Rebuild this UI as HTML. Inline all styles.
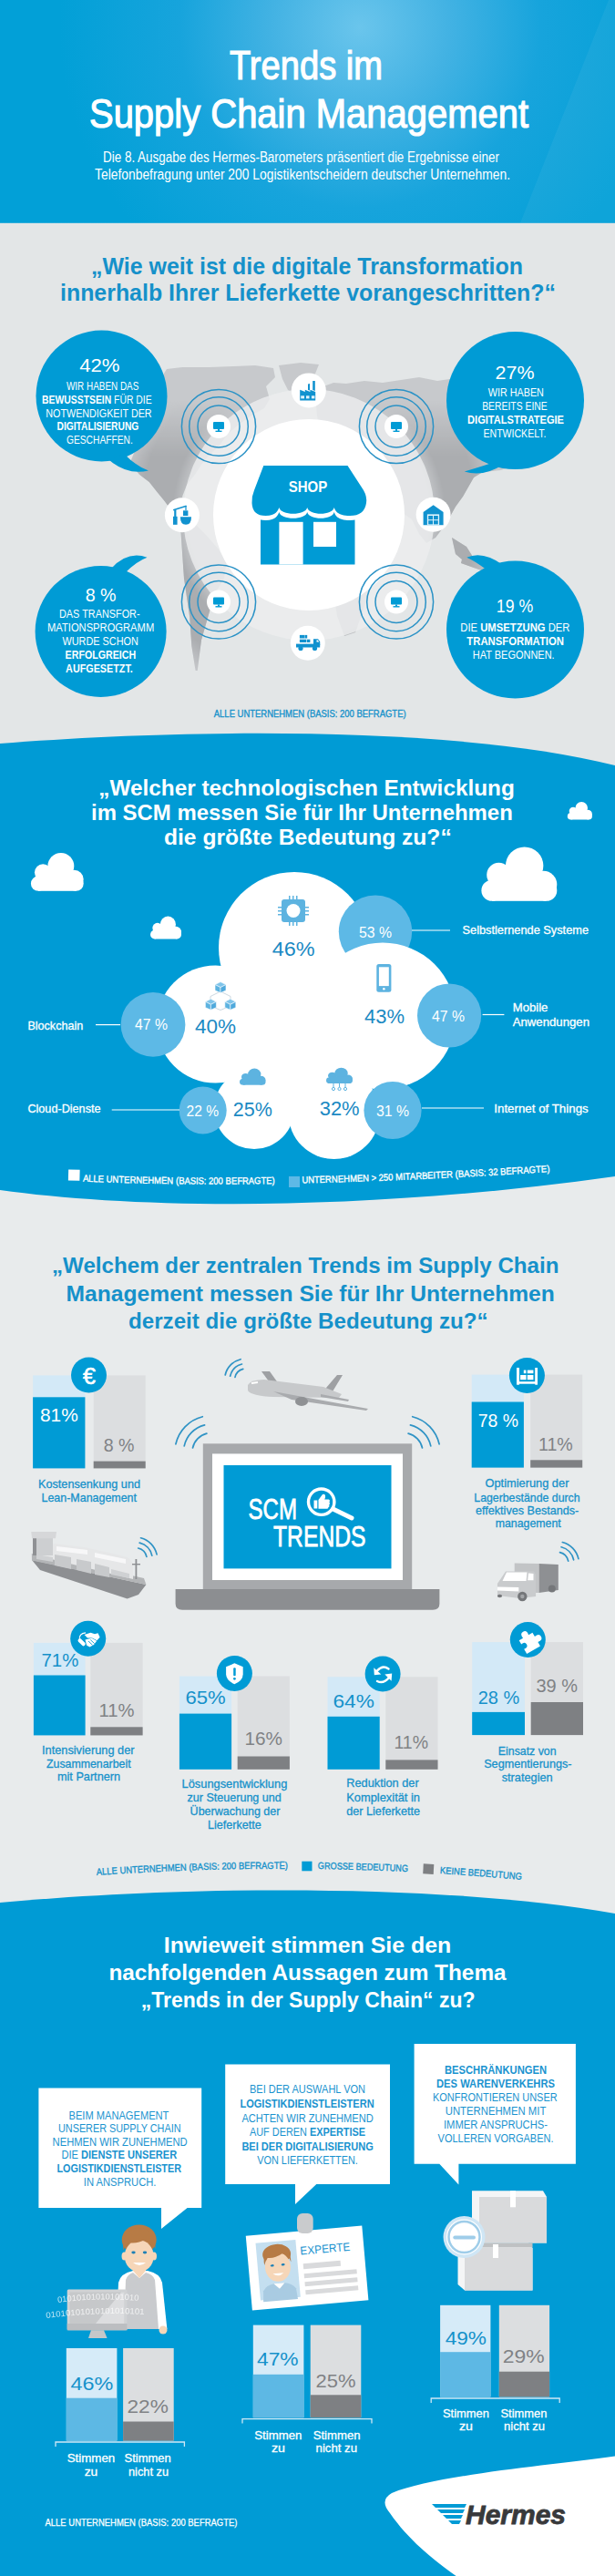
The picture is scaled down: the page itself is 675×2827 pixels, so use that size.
<!DOCTYPE html>
<html><head><meta charset="utf-8"><title>Trends im Supply Chain Management</title>
<style>
html,body{margin:0;padding:0;background:#e8ebec;}
body{width:675px;height:2827px;overflow:hidden;}
svg{display:block;font-family:"Liberation Sans", sans-serif;}
</style></head><body>
<svg width="675" height="2827" viewBox="0 0 675 2827">
<defs>
<radialGradient id="hg" cx="395" cy="30" r="330" gradientUnits="userSpaceOnUse">
<stop offset="0" stop-color="#6ac5ec"/><stop offset="0.3" stop-color="#42b2e3"/><stop offset="0.6" stop-color="#17a4dc"/><stop offset="1" stop-color="#02a0d7"/>
</radialGradient>
</defs>
<rect x="0" y="0" width="675" height="2827" fill="#e8ebec"/>
<rect x="0" y="244" width="675" height="600" fill="#e3e6e7"/>
<rect x="0" y="0" width="675" height="244.8" fill="url(#hg)"/>
<path d="M668,0 L675,0 L675,244.8 L571,244.8 Z" fill="#ffffff" opacity="0.05"/>
<path d="M0,816 C200,800 500,796 675,840 L675,1291 C400,1330 150,1327 0,1306 Z" fill="#009bd5"/>
<path d="M0,2088 C200,2070 480,2066 675,2100 L675,2827 L0,2827 Z" fill="#009bd5"/>
<text x="252.0" y="87.0" font-size="45" fill="#fff" text-anchor="start" textLength="168.0" lengthAdjust="spacingAndGlyphs" stroke="#fff" stroke-width="1.2">Trends im</text>
<text x="98.0" y="140.0" font-size="45" fill="#fff" text-anchor="start" textLength="482.0" lengthAdjust="spacingAndGlyphs" stroke="#fff" stroke-width="1.2">Supply Chain Management</text>
<text x="113.0" y="178.0" font-size="15.8" fill="#fff" text-anchor="start" textLength="435.0" lengthAdjust="spacingAndGlyphs">Die 8. Ausgabe des Hermes-Barometers präsentiert die Ergebnisse einer</text>
<text x="104.0" y="197.0" font-size="15.8" fill="#fff" text-anchor="start" textLength="456.0" lengthAdjust="spacingAndGlyphs">Telefonbefragung unter 200 Logistikentscheidern deutscher Unternehmen.</text>
<text x="100.0" y="300.5" font-size="25" fill="#1591ca" text-anchor="start" font-weight="bold" textLength="474.0" lengthAdjust="spacingAndGlyphs">„Wie weit ist die digitale Transformation</text>
<text x="66.0" y="329.5" font-size="25" fill="#1591ca" text-anchor="start" font-weight="bold" textLength="544.0" lengthAdjust="spacingAndGlyphs">innerhalb Ihrer Lieferkette vorangeschritten?“</text>
<radialGradient id="rgd" cx="339" cy="565" r="220" gradientUnits="userSpaceOnUse">
<stop offset="0.6" stop-color="#000"/><stop offset="0.68" stop-color="#fff"/><stop offset="0.84" stop-color="#fff"/><stop offset="0.96" stop-color="#000"/></radialGradient>
<linearGradient id="lgd" x1="0" y1="440" x2="0" y2="500" gradientUnits="userSpaceOnUse"><stop offset="0" stop-color="#000"/><stop offset="1" stop-color="#fff"/></linearGradient>
<mask id="mR" maskUnits="userSpaceOnUse" x="0" y="300" width="675" height="520"><rect x="0" y="300" width="675" height="520" fill="url(#rgd)"/></mask>
<mask id="mV" maskUnits="userSpaceOnUse" x="0" y="300" width="675" height="520"><rect x="0" y="300" width="675" height="520" fill="url(#lgd)"/></mask>
<g fill="#c7c9cc">
<path d="M165,428 L176,416 L183,405 L200,403 L230,403 L257,402 L280,401 L300,404 L302,414 L292,424 L296,438 L290,448 L276,456 L262,466 L250,476 L240,490 L229,500 L221,510 L214.6,520 L205,532 L200,545 L204,563 L193.4,563 L187,558.7 L180.7,550 L172.3,539.7 L163.8,529 L153,520.7 L142.7,508 L150,490 L158,470 L160,450 Z"/>
<path d="M306,401 L330,398 L350,400 L346,410 L336,424 L326,433 L316,428 L310,416 Z"/>
<path d="M197.7,572 L214.6,575.6 L227,588 L240,603 L248.4,618 L246,635 L235.7,651.7 L229.4,673 L221,702.5 L218.8,719.4 L216.7,736 L214.6,736 L210.3,708.8 L208.2,677 L202,635 L199.8,603 Z"/>
<path d="M350,426 L366,420 L380,421 L400,418 L420,420 L440,417 L460,414 L480,418 L500,415 L530,417 L560,413 L600,412 L625,416 L630,440 L610,480 L580,505 L550,516 L530,518 L520,524 L508,545 L500,556 L490,574 L478,590 L468,596 L460,586 L452,570 L440,562 L425,556 L410,548 L396,544 L382,538 L372,522 L362,500 L352,480 L348,456 L346,434 Z"/>
<path d="M360,572 L392,566 L414,580 L420,600 L412,628 L402,660 L390,694 L378,698 L370,676 L364,640 L356,606 Z"/>
<path d="M496,590 L512,600 L522,616 L514,620 L500,608 Z"/>
<path d="M508,610 L538,622 L534,628 L506,618 Z"/>
<path d="M530,640 L566,636 L596,650 L600,690 L580,712 L548,710 L526,694 L520,664 Z"/>
</g>
<g mask="url(#mV)"><g fill="#abadb0" mask="url(#mR)">
<path d="M165,428 L176,416 L183,405 L200,403 L230,403 L257,402 L280,401 L300,404 L302,414 L292,424 L296,438 L290,448 L276,456 L262,466 L250,476 L240,490 L229,500 L221,510 L214.6,520 L205,532 L200,545 L204,563 L193.4,563 L187,558.7 L180.7,550 L172.3,539.7 L163.8,529 L153,520.7 L142.7,508 L150,490 L158,470 L160,450 Z"/>
<path d="M306,401 L330,398 L350,400 L346,410 L336,424 L326,433 L316,428 L310,416 Z"/>
<path d="M197.7,572 L214.6,575.6 L227,588 L240,603 L248.4,618 L246,635 L235.7,651.7 L229.4,673 L221,702.5 L218.8,719.4 L216.7,736 L214.6,736 L210.3,708.8 L208.2,677 L202,635 L199.8,603 Z"/>
<path d="M350,426 L366,420 L380,421 L400,418 L420,420 L440,417 L460,414 L480,418 L500,415 L530,417 L560,413 L600,412 L625,416 L630,440 L610,480 L580,505 L550,516 L530,518 L520,524 L508,545 L500,556 L490,574 L478,590 L468,596 L460,586 L452,570 L440,562 L425,556 L410,548 L396,544 L382,538 L372,522 L362,500 L352,480 L348,456 L346,434 Z"/>
<path d="M360,572 L392,566 L414,580 L420,600 L412,628 L402,660 L390,694 L378,698 L370,676 L364,640 L356,606 Z"/>
<path d="M496,590 L512,600 L522,616 L514,620 L500,608 Z"/>
<path d="M508,610 L538,622 L534,628 L506,618 Z"/>
<path d="M530,640 L566,636 L596,650 L600,690 L580,712 L548,710 L526,694 L520,664 Z"/>
</g></g>
<circle cx="339" cy="565" r="121" fill="none" stroke="#eceeef" stroke-width="34" opacity="0.8"/>
<circle cx="339" cy="565" r="105" fill="#ffffff"/>
<g fill="none" stroke="#2a92c6" stroke-width="1.5"><circle cx="240" cy="468" r="40.6"/><circle cx="240" cy="468" r="32.3"/><circle cx="240" cy="468" r="23"/></g>
<circle cx="240" cy="468" r="13" fill="#fff"/>
<rect x="234" y="463" width="12" height="8" rx="1" fill="#009bd5"/><rect x="239" y="471" width="2" height="2" fill="#009bd5"/><rect x="236.5" y="472.6" width="7" height="1.4" fill="#009bd5"/>
<g fill="none" stroke="#2a92c6" stroke-width="1.5"><circle cx="435" cy="468" r="40.6"/><circle cx="435" cy="468" r="32.3"/><circle cx="435" cy="468" r="23"/></g>
<circle cx="435" cy="468" r="13" fill="#fff"/>
<rect x="429" y="463" width="12" height="8" rx="1" fill="#009bd5"/><rect x="434" y="471" width="2" height="2" fill="#009bd5"/><rect x="431.5" y="472.6" width="7" height="1.4" fill="#009bd5"/>
<g fill="none" stroke="#2a92c6" stroke-width="1.5"><circle cx="240" cy="660.5" r="40.6"/><circle cx="240" cy="660.5" r="32.3"/><circle cx="240" cy="660.5" r="23"/></g>
<circle cx="240" cy="660.5" r="13" fill="#fff"/>
<rect x="234" y="655.5" width="12" height="8" rx="1" fill="#009bd5"/><rect x="239" y="663.5" width="2" height="2" fill="#009bd5"/><rect x="236.5" y="665.1" width="7" height="1.4" fill="#009bd5"/>
<g fill="none" stroke="#2a92c6" stroke-width="1.5"><circle cx="435" cy="660.5" r="40.6"/><circle cx="435" cy="660.5" r="32.3"/><circle cx="435" cy="660.5" r="23"/></g>
<circle cx="435" cy="660.5" r="13" fill="#fff"/>
<rect x="429" y="655.5" width="12" height="8" rx="1" fill="#009bd5"/><rect x="434" y="663.5" width="2" height="2" fill="#009bd5"/><rect x="431.5" y="665.1" width="7" height="1.4" fill="#009bd5"/>
<circle cx="338.8" cy="428.4" r="19" fill="#fff"/>
<circle cx="199.9" cy="565.2" r="19" fill="#fff"/>
<circle cx="475.6" cy="564.8" r="19" fill="#fff"/>
<circle cx="337.8" cy="705.8" r="19" fill="#fff"/>
<g fill="#1192cf"><path d="M329.2,439.4 L329.2,427.7 L334.8,430 L334.8,427.7 L340.4,430 L340.4,427.7 L346.2,430 L346.2,439.4 Z"/><path d="M338,421.5 L340,421 L340,428.5 L338,428 Z"/><path d="M343.2,418 L345.8,418 L345.8,429 L343.2,428 Z"/></g>
<g fill="#dff3fc"><rect x="330.2" y="434.3" width="3.8" height="3.1"/><rect x="336" y="434.3" width="3.5" height="3.1"/><rect x="341.9" y="434.3" width="3.5" height="3.1"/></g>
<g fill="#1192cf"><rect x="190" y="566.8" width="4.6" height="9"/><rect x="191.2" y="559.5" width="2.2" height="8"/><path d="M190,559 L204.4,554.5 L204.8,556 L190.4,560.6 Z"/><rect x="203.4" y="555" width="1.2" height="5"/><rect x="201" y="560.3" width="5.4" height="5.7"/><path d="M197.9,567.2 L210,567.2 Q210,575.8 204,575.8 Q197.9,575.8 197.9,567.2 Z"/></g>
<path d="M464.6,562 L475.6,554.2 L486.6,562 L486.6,576.2 L464.6,576.2 Z" fill="#1192cf"/><rect x="468.9" y="564.4" width="13.2" height="11.8" fill="#dff3fc"/>
<g fill="#1192cf"><rect x="470.2" y="566" width="4.8" height="4.2"/><rect x="476" y="566" width="4.8" height="4.2"/><rect x="470.2" y="571.2" width="4.8" height="4.2"/><rect x="476" y="571.2" width="4.8" height="4.2"/></g>
<g fill="#1192cf"><rect x="325" y="706.6" width="26.2" height="3.9"/><path d="M344,701.3 L349,701.3 L351.2,704 L351.2,708 L344,708 Z"/><rect x="328.9" y="696.9" width="5.5" height="3.6"/><rect x="334.6" y="696.9" width="2.6" height="3.6"/><rect x="328.9" y="701.7" width="7.5" height="3.3"/><rect x="337" y="701.7" width="3.4" height="3.3"/><circle cx="330" cy="711.5" r="2.6"/><circle cx="345.5" cy="711.5" r="2.6"/></g>
<path d="M347.5,702.5 L349,702.5 L350.2,704.6 L347.5,704.6 Z" fill="#fff"/>
<rect x="286" y="560" width="103.5" height="59.5" fill="#009bd5"/>
<path d="M289.3,510.9 L381.5,510.9 L399,538 Q403,545 402,552 Q400,566 384,566 C370,566 368,560 366.7,557 C365,566 339,566 337.2,557 C335.5,566 308,566 306.4,557 C305,560 303,566 291.6,566 Q277,566 276.5,552 Q276,545 279,538 Z" fill="#fff" transform="translate(0,5)"/>
<path d="M289.3,510.9 L381.5,510.9 L399,538 Q403,545 402,552 Q400,566 384,566 C370,566 368,560 366.7,557 C365,566 339,566 337.2,557 C335.5,566 308,566 306.4,557 C305,560 303,566 291.6,566 Q277,566 276.5,552 Q276,545 279,538 Z" fill="#009bd5"/>
<rect x="306.4" y="572.8" width="26.2" height="46.7" fill="#fff"/><rect x="344" y="572.8" width="25" height="27.2" fill="#fff"/>
<text x="316.7" y="539.8" font-size="16.5" fill="#fff" text-anchor="start" font-weight="bold" textLength="42.5" lengthAdjust="spacingAndGlyphs">SHOP</text>
<circle cx="111.5" cy="434.5" r="72" fill="#009bd5"/>
<path d="M136,498 Q150,512 163,516.5 Q140,522 120,505 Z" fill="#009bd5"/>
<circle cx="565.5" cy="439.6" r="75.5" fill="#009bd5"/>
<path d="M540,508 Q522,514 509.7,517.4 Q530,524 552,510 Z" fill="#009bd5"/>
<circle cx="110.6" cy="693" r="72" fill="#009bd5"/>
<path d="M138,628 Q150,616 161.5,611.7 Q140,604 122,624 Z" fill="#009bd5"/>
<circle cx="565.5" cy="691" r="75.5" fill="#009bd5"/>
<path d="M535,626 Q522,616 512.3,611.7 Q530,604 552,620 Z" fill="#009bd5"/>
<text x="87.2" y="408.1" font-size="20.5" fill="#fff" text-anchor="start" textLength="44.3" lengthAdjust="spacingAndGlyphs">42%</text>
<text x="73.0" y="428.2" font-size="12.3" fill="#fff" text-anchor="start" textLength="79.3" lengthAdjust="spacingAndGlyphs">WIR HABEN DAS</text>
<text x="46.1" y="442.8" font-size="12.3" fill="#fff" text-anchor="start" textLength="120.5" lengthAdjust="spacingAndGlyphs"><tspan font-weight="bold">BEWUSSTSEIN</tspan> FÜR DIE</text>
<text x="50.3" y="457.5" font-size="12.3" fill="#fff" text-anchor="start" textLength="116.3" lengthAdjust="spacingAndGlyphs">NOTWENDIGKEIT DER</text>
<text x="62.5" y="472.1" font-size="12.3" fill="#fff" text-anchor="start" textLength="89.8" lengthAdjust="spacingAndGlyphs"><tspan font-weight="bold">DIGITALISIERUNG</tspan></text>
<text x="73.0" y="486.7" font-size="12.3" fill="#fff" text-anchor="start" textLength="72.8" lengthAdjust="spacingAndGlyphs">GESCHAFFEN.</text>
<text x="543.5" y="416.0" font-size="20.5" fill="#fff" text-anchor="start" textLength="43.0" lengthAdjust="spacingAndGlyphs">27%</text>
<text x="535.7" y="435.4" font-size="12.3" fill="#fff" text-anchor="start" textLength="61.2" lengthAdjust="spacingAndGlyphs">WIR HABEN</text>
<text x="529.2" y="450.3" font-size="12.3" fill="#fff" text-anchor="start" textLength="71.6" lengthAdjust="spacingAndGlyphs">BEREITS EINE</text>
<text x="513.1" y="465.3" font-size="12.3" fill="#fff" text-anchor="start" textLength="105.9" lengthAdjust="spacingAndGlyphs"><tspan font-weight="bold">DIGITALSTRATEGIE</tspan></text>
<text x="530.5" y="480.2" font-size="12.3" fill="#fff" text-anchor="start" textLength="69.0" lengthAdjust="spacingAndGlyphs">ENTWICKELT.</text>
<text x="93.7" y="660.4" font-size="20.5" fill="#fff" text-anchor="start" textLength="33.9" lengthAdjust="spacingAndGlyphs">8 %</text>
<text x="65.0" y="678.0" font-size="12.3" fill="#fff" text-anchor="start" textLength="88.6" lengthAdjust="spacingAndGlyphs">DAS TRANSFOR-</text>
<text x="52.0" y="693.0" font-size="12.3" fill="#fff" text-anchor="start" textLength="117.2" lengthAdjust="spacingAndGlyphs">MATIONSPROGRAMM</text>
<text x="68.5" y="707.9" font-size="12.3" fill="#fff" text-anchor="start" textLength="83.3" lengthAdjust="spacingAndGlyphs">WURDE SCHON</text>
<text x="71.6" y="722.9" font-size="12.3" fill="#fff" text-anchor="start" textLength="77.6" lengthAdjust="spacingAndGlyphs"><tspan font-weight="bold">ERFOLGREICH</tspan></text>
<text x="72.1" y="737.9" font-size="12.3" fill="#fff" text-anchor="start" textLength="73.7" lengthAdjust="spacingAndGlyphs"><tspan font-weight="bold">AUFGESETZT.</tspan></text>
<text x="544.8" y="671.5" font-size="20.5" fill="#fff" text-anchor="start" textLength="40.4" lengthAdjust="spacingAndGlyphs">19 %</text>
<text x="505.3" y="693.1" font-size="12.3" fill="#fff" text-anchor="start" textLength="120.2" lengthAdjust="spacingAndGlyphs">DIE <tspan font-weight="bold">UMSETZUNG</tspan> DER</text>
<text x="512.3" y="708.0" font-size="12.3" fill="#fff" text-anchor="start" textLength="106.7" lengthAdjust="spacingAndGlyphs"><tspan font-weight="bold">TRANSFORMATION</tspan></text>
<text x="518.8" y="722.8" font-size="12.3" fill="#fff" text-anchor="start" textLength="89.8" lengthAdjust="spacingAndGlyphs">HAT BEGONNEN.</text>
<text x="234.8" y="786.5" font-size="11" fill="#1591ca" text-anchor="start" textLength="210.8" lengthAdjust="spacingAndGlyphs" stroke="#1591ca" stroke-width="0.35">ALLE UNTERNEHMEN (BASIS: 200 BEFRAGTE)</text>
<text x="108.3" y="872.5" font-size="24" fill="#fff" text-anchor="start" font-weight="bold" textLength="456.5" lengthAdjust="spacingAndGlyphs">„Welcher technologischen Entwicklung</text>
<text x="100.0" y="900.0" font-size="24" fill="#fff" text-anchor="start" font-weight="bold" textLength="462.8" lengthAdjust="spacingAndGlyphs">im SCM messen Sie für Ihr Unternehmen</text>
<text x="180.0" y="927.4" font-size="24" fill="#fff" text-anchor="start" font-weight="bold" textLength="315.7" lengthAdjust="spacingAndGlyphs">die größte Bedeutung zu?“</text>
<g transform="translate(33.90,936.10) scale(0.5780,0.5792)" fill="#fff"><circle cx="14" cy="58" r="14"/><circle cx="86" cy="58" r="14"/><circle cx="23" cy="37" r="16"/><circle cx="57" cy="25" r="25"/><circle cx="82" cy="50" r="18"/><rect x="14" y="40" width="72" height="32"/></g>
<g transform="translate(165.00,1005.60) scale(0.3400,0.3458)" fill="#fff"><circle cx="14" cy="58" r="14"/><circle cx="86" cy="58" r="14"/><circle cx="23" cy="37" r="16"/><circle cx="57" cy="25" r="25"/><circle cx="82" cy="50" r="18"/><rect x="14" y="40" width="72" height="32"/></g>
<g transform="translate(622.80,880.00) scale(0.2710,0.2708)" fill="#fff"><circle cx="14" cy="58" r="14"/><circle cx="86" cy="58" r="14"/><circle cx="23" cy="37" r="16"/><circle cx="57" cy="25" r="25"/><circle cx="82" cy="50" r="18"/><rect x="14" y="40" width="72" height="32"/></g>
<g transform="translate(528.40,929.50) scale(0.8290,0.8236)" fill="#fff"><circle cx="14" cy="58" r="14"/><circle cx="86" cy="58" r="14"/><circle cx="23" cy="37" r="16"/><circle cx="57" cy="25" r="25"/><circle cx="82" cy="50" r="18"/><rect x="14" y="40" width="72" height="32"/></g>
<circle cx="323" cy="1040" r="83" fill="#fff"/>
<circle cx="412" cy="1022.6" r="40.2" fill="#5db9e6"/>
<g fill="#fff"><circle cx="236.6" cy="1124" r="64.6"/><circle cx="420" cy="1115" r="80.5"/><circle cx="279" cy="1217" r="44"/><circle cx="366.6" cy="1222" r="50"/><path d="M245,1060 L420,1060 L425,1180 L380,1200 L320,1225 L260,1205 Z"/></g>
<circle cx="168" cy="1124.4" r="35.4" fill="#5db9e6"/>
<circle cx="493.1" cy="1114.5" r="35.1" fill="#5db9e6"/>
<circle cx="222.7" cy="1218.5" r="26" fill="#5db9e6"/>
<circle cx="431" cy="1218.5" r="31.6" fill="#5db9e6"/>
<g stroke="#fff" stroke-width="1.2"><line x1="452" y1="1021" x2="494" y2="1021"/><line x1="105" y1="1124.6" x2="132" y2="1124.6"/><line x1="122.7" y1="1218" x2="197" y2="1218"/><line x1="529.6" y1="1113.5" x2="553.4" y2="1113.5"/><line x1="463" y1="1216" x2="531" y2="1216"/></g>
<text x="507.5" y="1025.0" font-size="13" fill="#fff" text-anchor="start" textLength="138.5" lengthAdjust="spacingAndGlyphs" stroke="#fff" stroke-width="0.3">Selbstlernende Systeme</text>
<text x="30.4" y="1129.5" font-size="13" fill="#fff" text-anchor="start" textLength="60.8" lengthAdjust="spacingAndGlyphs" stroke="#fff" stroke-width="0.3">Blockchain</text>
<text x="30.4" y="1221.0" font-size="13" fill="#fff" text-anchor="start" textLength="80.1" lengthAdjust="spacingAndGlyphs" stroke="#fff" stroke-width="0.3">Cloud-Dienste</text>
<text x="562.7" y="1110.0" font-size="13" fill="#fff" text-anchor="start" textLength="38.7" lengthAdjust="spacingAndGlyphs" stroke="#fff" stroke-width="0.3">Mobile</text>
<text x="562.7" y="1125.7" font-size="13" fill="#fff" text-anchor="start" textLength="84.3" lengthAdjust="spacingAndGlyphs" stroke="#fff" stroke-width="0.3">Anwendungen</text>
<text x="542.3" y="1221.0" font-size="13" fill="#fff" text-anchor="start" textLength="103.4" lengthAdjust="spacingAndGlyphs" stroke="#fff" stroke-width="0.3">Internet of Things</text>
<text x="394.0" y="1029.0" font-size="17" fill="#fff" text-anchor="start" textLength="36.0" lengthAdjust="spacingAndGlyphs">53 %</text>
<text x="148.0" y="1130.0" font-size="17" fill="#fff" text-anchor="start" textLength="36.0" lengthAdjust="spacingAndGlyphs">47 %</text>
<text x="474.0" y="1121.0" font-size="17" fill="#fff" text-anchor="start" textLength="36.0" lengthAdjust="spacingAndGlyphs">47 %</text>
<text x="204.5" y="1224.5" font-size="17" fill="#fff" text-anchor="start" textLength="35.5" lengthAdjust="spacingAndGlyphs">22 %</text>
<text x="413.0" y="1224.5" font-size="17" fill="#fff" text-anchor="start" textLength="36.0" lengthAdjust="spacingAndGlyphs">31 %</text>
<text x="298.8" y="1049.0" font-size="22" fill="#1a89c3" text-anchor="start" textLength="46.8" lengthAdjust="spacingAndGlyphs">46%</text>
<text x="214.0" y="1133.7" font-size="22" fill="#1a89c3" text-anchor="start" textLength="45.0" lengthAdjust="spacingAndGlyphs">40%</text>
<text x="400.0" y="1123.0" font-size="22" fill="#1a89c3" text-anchor="start" textLength="44.0" lengthAdjust="spacingAndGlyphs">43%</text>
<text x="255.8" y="1225.3" font-size="22" fill="#1a89c3" text-anchor="start" textLength="43.0" lengthAdjust="spacingAndGlyphs">25%</text>
<text x="350.7" y="1224.4" font-size="22" fill="#1a89c3" text-anchor="start" textLength="43.9" lengthAdjust="spacingAndGlyphs">32%</text>
<g fill="#5db3e0"><rect x="309" y="987" width="26" height="25" rx="3"/><rect x="317" y="983" width="1.5" height="4"/><rect x="317" y="1012" width="1.5" height="4"/><rect x="321" y="983" width="1.5" height="4"/><rect x="321" y="1012" width="1.5" height="4"/><rect x="325" y="983" width="1.5" height="4"/><rect x="325" y="1012" width="1.5" height="4"/><rect x="305" y="995" width="4" height="1.5"/><rect x="335" y="995" width="4" height="1.5"/><rect x="305" y="999" width="4" height="1.5"/><rect x="335" y="999" width="4" height="1.5"/><rect x="305" y="1003" width="4" height="1.5"/><rect x="335" y="1003" width="4" height="1.5"/></g><circle cx="322" cy="999.5" r="7.5" fill="#fff"/>
<path d="M231,1093.5 L242,1088 L253,1093.5 L253,1104 L242,1108.5 L231,1104 Z" fill="none" stroke="#c5d3dc" stroke-width="0.9"/>
<g fill="#5db3e0" stroke="#fff" stroke-width="0.6" stroke-linejoin="round"><path d="M236,1080.6 L242.0,1077.6 L248,1080.6 L242.0,1083.6 Z" fill="#7fc4ea"/><path d="M236,1080.6 L242.0,1083.6 L242.0,1089.6 L236,1086.9599999999998 Z"/><path d="M242.0,1083.6 L248,1080.6 L248,1086.9599999999998 L242.0,1089.6 Z" fill="#4fa9dc"/></g>
<g fill="#5db3e0" stroke="#fff" stroke-width="0.6" stroke-linejoin="round"><path d="M225.4,1099.3 L231.4,1096.3 L237.4,1099.3 L231.4,1102.3 Z" fill="#7fc4ea"/><path d="M225.4,1099.3 L231.4,1102.3 L231.4,1108.3 L225.4,1105.6599999999999 Z"/><path d="M231.4,1102.3 L237.4,1099.3 L237.4,1105.6599999999999 L231.4,1108.3 Z" fill="#4fa9dc"/></g>
<g fill="#5db3e0" stroke="#fff" stroke-width="0.6" stroke-linejoin="round"><path d="M246.8,1099.3 L252.8,1096.3 L258.8,1099.3 L252.8,1102.3 Z" fill="#7fc4ea"/><path d="M246.8,1099.3 L252.8,1102.3 L252.8,1108.3 L246.8,1105.6599999999999 Z"/><path d="M252.8,1102.3 L258.8,1099.3 L258.8,1105.6599999999999 L252.8,1108.3 Z" fill="#4fa9dc"/></g>
<g transform="translate(263.00,1172.60) scale(0.2850,0.2514)" fill="#5db3e0"><circle cx="14" cy="58" r="14"/><circle cx="86" cy="58" r="14"/><circle cx="23" cy="37" r="16"/><circle cx="57" cy="25" r="25"/><circle cx="82" cy="50" r="18"/><rect x="14" y="40" width="72" height="32"/></g>
<rect x="413.3" y="1058" width="16.1" height="30.7" rx="2.5" fill="#5db3e0"/><rect x="415.9" y="1061.3" width="10.9" height="20.8" fill="#fff"/><circle cx="421.35" cy="1085.2" r="1.3" fill="#fff"/>
<g transform="translate(358.00,1171.70) scale(0.2900,0.2403)" fill="#5db3e0"><circle cx="14" cy="58" r="14"/><circle cx="86" cy="58" r="14"/><circle cx="23" cy="37" r="16"/><circle cx="57" cy="25" r="25"/><circle cx="82" cy="50" r="18"/><rect x="14" y="40" width="72" height="32"/></g>
<g stroke="#5db3e0" stroke-width="1" fill="none"><line x1="366" y1="1189" x2="366" y2="1193"/><line x1="372.5" y1="1189" x2="372.5" y2="1193"/><line x1="379" y1="1189" x2="379" y2="1193"/><circle cx="366" cy="1195" r="1.6"/><circle cx="372.5" cy="1195" r="1.6"/><circle cx="379" cy="1195" r="1.6"/></g>
<rect x="75" y="1283.7" width="12.5" height="12" fill="#fff" transform="rotate(1.5 81 1290)"/>
<text font-size="10.5" fill="#fff" stroke="#fff" stroke-width="0.35"><textPath href="#lgpath" textLength="513" lengthAdjust="spacingAndGlyphs">ALLE UNTERNEHMEN (BASIS: 200 BEFRAGTE) <tspan dx="30">UNTERNEHMEN &gt; 250 MITARBEITER (BASIS: 32 BEFRAGTE)</tspan></textPath></text>
<path id="lgpath" d="M91,1296.5 Q300,1306 604,1286" fill="none"/>
<rect x="317" y="1291" width="12" height="12" fill="#5db9e6"/>
<text x="57.0" y="1397.3" font-size="24" fill="#1591ca" text-anchor="start" font-weight="bold" textLength="556.5" lengthAdjust="spacingAndGlyphs">„Welchem der zentralen Trends im Supply Chain</text>
<text x="72.6" y="1427.5" font-size="24" fill="#1591ca" text-anchor="start" font-weight="bold" textLength="536.2" lengthAdjust="spacingAndGlyphs">Management messen Sie für Ihr Unternehmen</text>
<text x="141.0" y="1458.0" font-size="24" fill="#1591ca" text-anchor="start" font-weight="bold" textLength="394.7" lengthAdjust="spacingAndGlyphs">derzeit die größte Bedeutung zu?“</text>
<rect x="36.1" y="1509.4" width="57.300000000000004" height="102.0" fill="#d3e9f7"/>
<rect x="36.1" y="1533.3" width="57.300000000000004" height="78.10000000000014" fill="#009bd5"/>
<rect x="102.7" y="1509.4" width="56.999999999999986" height="102.0" fill="#dcdee0"/>
<rect x="102.7" y="1603.6" width="56.999999999999986" height="7.800000000000182" fill="#7e8083"/>
<circle cx="97.5" cy="1509.1" r="19.5" fill="#009bd5"/>
<text x="44.0" y="1560.0" font-size="21" fill="#fff" text-anchor="start" textLength="41.8" lengthAdjust="spacingAndGlyphs">81%</text>
<text x="113.7" y="1593.2" font-size="21" fill="#808285" text-anchor="start" textLength="33.8" lengthAdjust="spacingAndGlyphs">8 %</text>
<text x="42.0" y="1633.2" font-size="13.5" fill="#1591ca" text-anchor="start" textLength="112.0" lengthAdjust="spacingAndGlyphs" stroke="#1591ca" stroke-width="0.3">Kostensenkung und</text>
<text x="45.5" y="1647.5" font-size="13.5" fill="#1591ca" text-anchor="start" textLength="104.5" lengthAdjust="spacingAndGlyphs" stroke="#1591ca" stroke-width="0.3">Lean-Management</text>
<rect x="517.7" y="1508.6" width="57.19999999999993" height="102.0" fill="#d3e9f7"/>
<rect x="517.7" y="1538.5" width="57.19999999999993" height="72.09999999999991" fill="#009bd5"/>
<rect x="582.2" y="1508.6" width="57.0" height="102.0" fill="#dcdee0"/>
<rect x="582.2" y="1602.3" width="57.0" height="8.299999999999955" fill="#7e8083"/>
<circle cx="578.4" cy="1509.4" r="19.5" fill="#009bd5"/>
<text x="524.7" y="1565.9" font-size="21" fill="#fff" text-anchor="start" textLength="44.3" lengthAdjust="spacingAndGlyphs">78 %</text>
<text x="591.0" y="1592.4" font-size="21" fill="#808285" text-anchor="start" textLength="37.8" lengthAdjust="spacingAndGlyphs">11%</text>
<text x="532.5" y="1632.4" font-size="13.5" fill="#1591ca" text-anchor="start" textLength="91.9" lengthAdjust="spacingAndGlyphs" stroke="#1591ca" stroke-width="0.3">Optimierung der</text>
<text x="520.3" y="1647.5" font-size="13.5" fill="#1591ca" text-anchor="start" textLength="116.3" lengthAdjust="spacingAndGlyphs" stroke="#1591ca" stroke-width="0.3">Lagerbestände durch</text>
<text x="522.0" y="1661.8" font-size="13.5" fill="#1591ca" text-anchor="start" textLength="113.3" lengthAdjust="spacingAndGlyphs" stroke="#1591ca" stroke-width="0.3">effektives Bestands-</text>
<text x="543.7" y="1676.0" font-size="13.5" fill="#1591ca" text-anchor="start" textLength="72.1" lengthAdjust="spacingAndGlyphs" stroke="#1591ca" stroke-width="0.3">management</text>
<rect x="36.9" y="1802.9" width="56.699999999999996" height="101.5" fill="#d3e9f7"/>
<rect x="36.9" y="1838.5" width="56.699999999999996" height="65.90000000000009" fill="#009bd5"/>
<rect x="99.3" y="1802.9" width="57.3" height="101.5" fill="#dcdee0"/>
<rect x="99.3" y="1895.3" width="57.3" height="9.100000000000136" fill="#7e8083"/>
<circle cx="96.7" cy="1798.2" r="19.5" fill="#009bd5"/>
<text x="45.5" y="1829.0" font-size="21" fill="#1591ca" text-anchor="start" textLength="40.8" lengthAdjust="spacingAndGlyphs">71%</text>
<text x="108.5" y="1884.0" font-size="21" fill="#808285" text-anchor="start" textLength="39.0" lengthAdjust="spacingAndGlyphs">11%</text>
<text x="46.0" y="1925.4" font-size="13.5" fill="#1591ca" text-anchor="start" textLength="101.5" lengthAdjust="spacingAndGlyphs" stroke="#1591ca" stroke-width="0.3">Intensivierung der</text>
<text x="51.0" y="1939.7" font-size="13.5" fill="#1591ca" text-anchor="start" textLength="92.6" lengthAdjust="spacingAndGlyphs" stroke="#1591ca" stroke-width="0.3">Zusammenarbeit</text>
<text x="63.0" y="1954.0" font-size="13.5" fill="#1591ca" text-anchor="start" textLength="69.0" lengthAdjust="spacingAndGlyphs" stroke="#1591ca" stroke-width="0.3">mit Partnern</text>
<rect x="196.9" y="1839.5" width="57.19999999999999" height="102.29999999999995" fill="#d3e9f7"/>
<rect x="196.9" y="1880.6" width="57.19999999999999" height="61.200000000000045" fill="#009bd5"/>
<rect x="260.7" y="1839.5" width="57.19999999999999" height="102.29999999999995" fill="#dcdee0"/>
<rect x="260.7" y="1927.5" width="57.19999999999999" height="14.299999999999955" fill="#7e8083"/>
<circle cx="257.4" cy="1836.4" r="19.5" fill="#009bd5"/>
<text x="203.4" y="1870.2" font-size="21" fill="#1591ca" text-anchor="start" textLength="44.2" lengthAdjust="spacingAndGlyphs">65%</text>
<text x="268.5" y="1915.0" font-size="21" fill="#808285" text-anchor="start" textLength="41.5" lengthAdjust="spacingAndGlyphs">16%</text>
<text x="199.5" y="1962.3" font-size="13.5" fill="#1591ca" text-anchor="start" textLength="115.8" lengthAdjust="spacingAndGlyphs" stroke="#1591ca" stroke-width="0.3">Lösungsentwicklung</text>
<text x="205.5" y="1977.4" font-size="13.5" fill="#1591ca" text-anchor="start" textLength="103.3" lengthAdjust="spacingAndGlyphs" stroke="#1591ca" stroke-width="0.3">zur Steuerung und</text>
<text x="208.6" y="1992.2" font-size="13.5" fill="#1591ca" text-anchor="start" textLength="98.9" lengthAdjust="spacingAndGlyphs" stroke="#1591ca" stroke-width="0.3">Überwachung der</text>
<text x="228.0" y="2006.5" font-size="13.5" fill="#1591ca" text-anchor="start" textLength="58.7" lengthAdjust="spacingAndGlyphs" stroke="#1591ca" stroke-width="0.3">Lieferkette</text>
<rect x="359.5" y="1840.3" width="57.19999999999999" height="101.5" fill="#d3e9f7"/>
<rect x="359.5" y="1883.8" width="57.19999999999999" height="58.0" fill="#009bd5"/>
<rect x="423.3" y="1840.3" width="57.19999999999999" height="101.5" fill="#dcdee0"/>
<rect x="423.3" y="1931.4" width="57.19999999999999" height="10.399999999999864" fill="#7e8083"/>
<circle cx="420.1" cy="1837" r="19.5" fill="#009bd5"/>
<text x="365.5" y="1874.1" font-size="21" fill="#1591ca" text-anchor="start" textLength="45.3" lengthAdjust="spacingAndGlyphs">64%</text>
<text x="432.4" y="1919.2" font-size="21" fill="#808285" text-anchor="start" textLength="37.6" lengthAdjust="spacingAndGlyphs">11%</text>
<text x="380.3" y="1961.0" font-size="13.5" fill="#1591ca" text-anchor="start" textLength="79.4" lengthAdjust="spacingAndGlyphs" stroke="#1591ca" stroke-width="0.3">Reduktion der</text>
<text x="380.3" y="1977.1" font-size="13.5" fill="#1591ca" text-anchor="start" textLength="80.7" lengthAdjust="spacingAndGlyphs" stroke="#1591ca" stroke-width="0.3">Komplexität in</text>
<text x="380.3" y="1992.2" font-size="13.5" fill="#1591ca" text-anchor="start" textLength="80.7" lengthAdjust="spacingAndGlyphs" stroke="#1591ca" stroke-width="0.3">der Lieferkette</text>
<rect x="518.2" y="1802.1" width="57.799999999999955" height="102.0" fill="#d3e9f7"/>
<rect x="518.2" y="1878.9" width="57.799999999999955" height="25.199999999999818" fill="#009bd5"/>
<rect x="582.7" y="1802.1" width="57.299999999999955" height="102.0" fill="#dcdee0"/>
<rect x="582.7" y="1868" width="57.299999999999955" height="36.09999999999991" fill="#7e8083"/>
<circle cx="579.3" cy="1799.5" r="19.5" fill="#009bd5"/>
<text x="524.7" y="1869.8" font-size="21" fill="#1591ca" text-anchor="start" textLength="45.5" lengthAdjust="spacingAndGlyphs">28 %</text>
<text x="588.5" y="1856.7" font-size="21" fill="#808285" text-anchor="start" textLength="45.5" lengthAdjust="spacingAndGlyphs">39 %</text>
<text x="546.8" y="1926.0" font-size="13.5" fill="#1591ca" text-anchor="start" textLength="63.8" lengthAdjust="spacingAndGlyphs" stroke="#1591ca" stroke-width="0.3">Einsatz von</text>
<text x="531.2" y="1940.2" font-size="13.5" fill="#1591ca" text-anchor="start" textLength="96.3" lengthAdjust="spacingAndGlyphs" stroke="#1591ca" stroke-width="0.3">Segmentierungs-</text>
<text x="550.7" y="1954.5" font-size="13.5" fill="#1591ca" text-anchor="start" textLength="56.0" lengthAdjust="spacingAndGlyphs" stroke="#1591ca" stroke-width="0.3">strategien</text>
<text x="98" y="1518.8" font-size="25" fill="#fff" stroke="#fff" stroke-width="0.6" text-anchor="middle">€</text>
<g fill="#fff"><rect x="567" y="1501" width="3" height="18.7"/><rect x="587.2" y="1501" width="2.8" height="18.7"/><rect x="567" y="1516.2" width="23" height="2.5"/><rect x="574.8" y="1503.6" width="2.6" height="3.6"/><rect x="578.8" y="1503.6" width="6.6" height="3.6"/><rect x="571.1" y="1509" width="6.4" height="5.2"/><rect x="578.8" y="1509" width="6.6" height="5.2"/></g>
<g fill="#fff"><rect x="87.5" y="1797.5" width="4.2" height="9.5" rx="1.8" transform="rotate(-45 89.6 1802.2)"/><path d="M92.6,1794 L99.5,1791.7 L104,1793.2 L107.5,1792.2 L109.6,1796.8 L106.5,1800.2 L101,1797.6 L96,1797.6 Z"/><path d="M93.5,1799.5 L100.5,1797.8 L106.2,1800.8 L103,1805 L98.5,1807.5 L95.2,1805.8 Z"/></g><path d="M87.3,1799.5 Q86.5,1792.5 94,1791.8" fill="none" stroke="#fff" stroke-width="1.2"/><path d="M97,1801 L101.5,1805.3 M99.3,1799.6 L103.6,1803.6" stroke="#009bd5" stroke-width="0.9"/>
<g transform="translate(0.7,1.3)"><path d="M256.7,1824 L266,1828 L266,1836 Q266,1843 256.7,1847 Q247.4,1843 247.4,1836 L247.4,1828 Z" fill="#fff"/><rect x="255.5" y="1829" width="2.5" height="9" rx="1" fill="#009bd5"/><circle cx="256.7" cy="1841" r="1.4" fill="#009bd5"/></g>
<g fill="none" stroke="#fff" stroke-width="2.4" stroke-linecap="round"><path d="M426.5,1831.5 Q420,1826.5 414,1833.5"/><path d="M414,1845 Q421,1848.5 427.5,1840.5"/></g><path d="M410.3,1830.3 L410.8,1838.3 L418.3,1837.6 Z M430.2,1836.6 L422.3,1837.6 L429.6,1844.8 Z" fill="#fff"/>
<path d="M571,1795 L576,1795 Q575,1789 579.5,1789 Q584,1789 583,1795 L588,1795 L588,1800 Q594,1799 594,1803.5 Q594,1808 588,1807 L588,1812 L571,1812 L571,1806 Q576,1807 576,1803 Q576,1799 571,1800 Z" fill="#fff" transform="rotate(-30 580 1800)"/>
<path id="lg4" d="M106,2058 Q341,2041.5 572,2063" fill="none"/>
<text font-size="10.5" fill="#1591ca" stroke="#1591ca" stroke-width="0.35"><textPath href="#lg4" textLength="210" lengthAdjust="spacingAndGlyphs">ALLE UNTERNEHMEN (BASIS: 200 BEFRAGTE)</textPath></text>
<text font-size="10.5" fill="#1591ca" stroke="#1591ca" stroke-width="0.35"><textPath href="#lg4" startOffset="243" textLength="99" lengthAdjust="spacingAndGlyphs">GROSSE BEDEUTUNG</textPath></text>
<text font-size="10.5" fill="#1591ca" stroke="#1591ca" stroke-width="0.35"><textPath href="#lg4" startOffset="377" textLength="90" lengthAdjust="spacingAndGlyphs">KEINE BEDEUTUNG</textPath></text>
<rect x="331.3" y="2042.7" width="11.2" height="10.6" fill="#009bd5"/>
<rect x="464.5" y="2045.6" width="11.5" height="11" fill="#7e8083" transform="rotate(3 470 2051)"/>
<rect x="222.8" y="1584.3" width="229.4" height="160" fill="#a7a9ac"/>
<rect x="233" y="1595.4" width="209" height="138.6" fill="#fff"/>
<rect x="245.5" y="1608" width="184" height="113.4" fill="#009bd5"/>
<path d="M192.6,1744 L482.4,1744 L482.4,1760 Q482.4,1766.7 475,1766.7 L200,1766.7 Q192.6,1766.7 192.6,1760 Z" fill="#8c8e91"/>
<text x="272.5" y="1667.0" font-size="32" fill="#fff" text-anchor="start" textLength="53.5" lengthAdjust="spacingAndGlyphs" stroke="#fff" stroke-width="0.8">SCM</text>
<text x="300.0" y="1696.5" font-size="32" fill="#fff" text-anchor="start" textLength="101.5" lengthAdjust="spacingAndGlyphs" stroke="#fff" stroke-width="0.8">TRENDS</text>
<circle cx="352.7" cy="1648.2" r="14.2" fill="none" stroke="#fff" stroke-width="3.4"/><line x1="365.5" y1="1656" x2="386" y2="1666" stroke="#fff" stroke-width="5" stroke-linecap="round"/>
<path d="M344.5,1646.5 L348.3,1646.5 L348.3,1655.5 L344.5,1655.5 Z M349.5,1646 L354,1640 Q357.5,1638.5 357,1643.5 L356.2,1645.5 L361,1645.5 Q362.8,1646.5 361.5,1648.5 Q362.8,1650.5 361.2,1651.5 Q362.3,1653.5 360.3,1654.3 Q360.8,1655.5 359,1655.8 L349.5,1655.8 Z" fill="#fff"/>
<path d="M211.5,1589.0 A21.0,21.0 0 0 1 226.9,1573.1" fill="none" stroke="#2f93c5" stroke-width="1.7" stroke-linecap="round"/><path d="M202.2,1586.9 A30.5,30.5 0 0 1 224.6,1563.9" fill="none" stroke="#2f93c5" stroke-width="1.7" stroke-linecap="round"/><path d="M192.9,1584.8 A40.0,40.0 0 0 1 222.3,1554.7" fill="none" stroke="#2f93c5" stroke-width="1.7" stroke-linecap="round"/>
<path d="M448.1,1573.1 A21.0,21.0 0 0 1 463.5,1589.0" fill="none" stroke="#2f93c5" stroke-width="1.7" stroke-linecap="round"/><path d="M450.4,1563.9 A30.5,30.5 0 0 1 472.8,1586.9" fill="none" stroke="#2f93c5" stroke-width="1.7" stroke-linecap="round"/><path d="M452.7,1554.7 A40.0,40.0 0 0 1 482.1,1584.8" fill="none" stroke="#2f93c5" stroke-width="1.7" stroke-linecap="round"/>
<path d="M258.0,1511.4 A12.0,12.0 0 0 1 266.8,1502.4" fill="none" stroke="#2f93c5" stroke-width="1.7" stroke-linecap="round"/><path d="M252.6,1510.2 A17.5,17.5 0 0 1 265.5,1497.0" fill="none" stroke="#2f93c5" stroke-width="1.7" stroke-linecap="round"/><path d="M247.2,1509.0 A23.0,23.0 0 0 1 264.1,1491.7" fill="none" stroke="#2f93c5" stroke-width="1.7" stroke-linecap="round"/>
<path d="M151.7,1699.0 A12.5,12.5 0 0 1 160.9,1708.4" fill="none" stroke="#2f93c5" stroke-width="1.7" stroke-linecap="round"/><path d="M153.2,1693.1 A18.5,18.5 0 0 1 166.8,1707.1" fill="none" stroke="#2f93c5" stroke-width="1.7" stroke-linecap="round"/><path d="M154.5,1687.8 A24.0,24.0 0 0 1 172.1,1705.9" fill="none" stroke="#2f93c5" stroke-width="1.7" stroke-linecap="round"/>
<path d="M614.5,1703.7 A12.5,12.5 0 0 1 623.7,1713.1" fill="none" stroke="#2f93c5" stroke-width="1.7" stroke-linecap="round"/><path d="M616.0,1697.8 A18.5,18.5 0 0 1 629.6,1711.8" fill="none" stroke="#2f93c5" stroke-width="1.7" stroke-linecap="round"/><path d="M617.3,1692.5 A24.0,24.0 0 0 1 634.9,1710.6" fill="none" stroke="#2f93c5" stroke-width="1.7" stroke-linecap="round"/>
<g><path d="M287,1505 L296,1505 L306,1519 L298,1520 Z" fill="#9ea0a3"/><path d="M370,1509 L376,1509 L362,1532 L352,1530 Z" fill="#9ea0a3"/><path d="M272,1520 Q275,1514 290,1514 L355,1522 L375,1530 L372,1534 L300,1533 Q276,1532 272,1526 Z" fill="#c7c9cb"/><path d="M300,1527 L404,1546 L402,1548 L320,1536 Z" fill="#a9abae"/><path d="M352,1530 L383,1536 L382,1538 L352,1533 Z" fill="#a9abae"/><ellipse cx="331" cy="1538" rx="7" ry="5" fill="#8f9194"/><path d="M276,1518 L283,1517" stroke="#fff" stroke-width="2"/></g>
<g><path d="M35,1712 L160.4,1739 L152,1750 L139.6,1754.5 L44,1723 Z" fill="#8d8f92"/><path d="M34.8,1705 L158,1732 L160.4,1739 L35,1712.5 Z" fill="#b3b5b7"/><path d="M40,1699 L60,1694 L92,1698 L120,1704 L140,1709 L146,1715 L146,1733 L40,1707 Z" fill="#e6e7e8"/><path d="M60,1706 L78,1709 L78,1722 L60,1718 Z M84,1711 L100,1714 L100,1727 L84,1723 Z M104,1716 L120,1720 L120,1731 L104,1728 Z" fill="#c8cacc"/><path d="M62,1697 L96,1701 L96,1706 L62,1702 Z M104,1704 L138,1711 L138,1716 L104,1709 Z" fill="#f7f7f8"/><path d="M40,1706 L58,1709 L58,1714 L40,1711 Z M122,1722 L142,1727 L142,1732 L122,1728 Z" fill="#cfd1d3"/><rect x="36" y="1688" width="22" height="19" fill="#cdcfd1"/><rect x="36" y="1688" width="4" height="19" fill="#8f9194"/><path d="M34.3,1681 L62,1681 L61,1688.3 L35,1688.3 Z" fill="#d6d7d9"/><rect x="148.5" y="1711" width="1.8" height="22" fill="#8d8f92"/><rect x="145" y="1716" width="9" height="1.4" fill="#8d8f92"/></g>
<g><path d="M591.4,1716 L612.8,1717 L612.8,1745 L591.4,1748 Z" fill="#8e9093"/><path d="M564.7,1715.4 L591.4,1716 L591.4,1748 L564.7,1748 Z" fill="#c2c4c6"/><path d="M555,1724.5 L586,1724.5 L588.1,1728 L588.1,1752 L570,1754 L546,1751 L545.9,1738 L550,1732 Z" fill="#c9cbcd"/><path d="M556,1725.5 L578.5,1725.5 L577.5,1735 L551.5,1735 Z" fill="#fff"/><path d="M580,1726.5 L585.5,1727 L585.5,1734.3 L579.2,1734.3 Z" fill="#fff"/><path d="M545.9,1741.4 L569.3,1742 L569.3,1746.6 L545.9,1745.6 Z" fill="#fff"/><circle cx="573.3" cy="1752" r="5.2" fill="#75777a"/><circle cx="573.3" cy="1752" r="2.2" fill="#a3a5a8"/><circle cx="605.8" cy="1743.5" r="4" fill="#75777a"/><ellipse cx="548.5" cy="1751.5" rx="2.6" ry="1.8" fill="#75777a"/></g>
<text x="179.8" y="2142.8" font-size="24" fill="#fff" text-anchor="start" font-weight="bold" textLength="315.4" lengthAdjust="spacingAndGlyphs">Inwieweit stimmen Sie den</text>
<text x="119.4" y="2173.0" font-size="24" fill="#fff" text-anchor="start" font-weight="bold" textLength="436.2" lengthAdjust="spacingAndGlyphs">nachfolgenden Aussagen zum Thema</text>
<text x="154.8" y="2202.5" font-size="24" fill="#fff" text-anchor="start" font-weight="bold" textLength="366.7" lengthAdjust="spacingAndGlyphs">„Trends in der Supply Chain“ zu?</text>
<path d="M42.4,2291.4 L221.2,2291.4 L221.2,2423.1 L205.6,2423.1 L177,2446 L177,2423.1 L42.4,2423.1 Z" fill="#fff"/>
<path d="M247.2,2265.6 L428,2265.6 L428,2397 L347.3,2397 L324,2419 L324,2397 L247.2,2397 Z" fill="#fff"/>
<path d="M454.6,2243 L631.9,2243 L631.9,2374.7 L503.4,2374.7 L503.4,2397.5 L482.3,2374.7 L454.6,2374.7 Z" fill="#fff"/>
<text x="75.5" y="2325.5" font-size="12" fill="#1a93cf" text-anchor="start" textLength="109.9" lengthAdjust="spacingAndGlyphs">BEIM MANAGEMENT</text>
<text x="64.0" y="2340.2" font-size="12" fill="#1a93cf" text-anchor="start" textLength="134.5" lengthAdjust="spacingAndGlyphs">UNSERER SUPPLY CHAIN</text>
<text x="57.6" y="2354.8" font-size="12" fill="#1a93cf" text-anchor="start" textLength="148.0" lengthAdjust="spacingAndGlyphs">NEHMEN WIR ZUNEHMEND</text>
<text x="67.4" y="2369.4" font-size="12" fill="#1a93cf" text-anchor="start" textLength="126.8" lengthAdjust="spacingAndGlyphs">DIE <tspan font-weight="bold">DIENSTE UNSERER</tspan></text>
<text x="62.5" y="2384.0" font-size="12" fill="#1a93cf" text-anchor="start" textLength="136.5" lengthAdjust="spacingAndGlyphs"><tspan font-weight="bold">LOGISTIKDIENSTLEISTER</tspan></text>
<text x="91.8" y="2398.7" font-size="12" fill="#1a93cf" text-anchor="start" textLength="79.7" lengthAdjust="spacingAndGlyphs">IN ANSPRUCH.</text>
<text x="274.0" y="2296.5" font-size="12" fill="#1a93cf" text-anchor="start" textLength="127.0" lengthAdjust="spacingAndGlyphs">BEI DER AUSWAHL VON</text>
<text x="263.4" y="2312.8" font-size="12" fill="#1a93cf" text-anchor="start" textLength="147.3" lengthAdjust="spacingAndGlyphs"><tspan font-weight="bold">LOGISTIKDIENSTLEISTERN</tspan></text>
<text x="265.4" y="2328.7" font-size="12" fill="#1a93cf" text-anchor="start" textLength="144.4" lengthAdjust="spacingAndGlyphs">ACHTEN WIR ZUNEHMEND</text>
<text x="274.0" y="2344.3" font-size="12" fill="#1a93cf" text-anchor="start" textLength="127.0" lengthAdjust="spacingAndGlyphs">AUF DEREN <tspan font-weight="bold">EXPERTISE</tspan></text>
<text x="265.4" y="2359.9" font-size="12" fill="#1a93cf" text-anchor="start" textLength="144.4" lengthAdjust="spacingAndGlyphs"><tspan font-weight="bold">BEI DER DIGITALISIERUNG</tspan></text>
<text x="282.3" y="2375.2" font-size="12" fill="#1a93cf" text-anchor="start" textLength="110.5" lengthAdjust="spacingAndGlyphs">VON LIEFERKETTEN.</text>
<text x="488.0" y="2275.5" font-size="12" fill="#1a93cf" text-anchor="start" textLength="112.0" lengthAdjust="spacingAndGlyphs"><tspan font-weight="bold">BESCHRÄNKUNGEN</tspan></text>
<text x="479.0" y="2291.1" font-size="12" fill="#1a93cf" text-anchor="start" textLength="130.0" lengthAdjust="spacingAndGlyphs"><tspan font-weight="bold">DES WARENVERKEHRS</tspan></text>
<text x="475.0" y="2305.8" font-size="12" fill="#1a93cf" text-anchor="start" textLength="136.7" lengthAdjust="spacingAndGlyphs">KONFRONTIEREN UNSER</text>
<text x="488.8" y="2321.0" font-size="12" fill="#1a93cf" text-anchor="start" textLength="110.5" lengthAdjust="spacingAndGlyphs">UNTERNEHMEN MIT</text>
<text x="487.0" y="2335.7" font-size="12" fill="#1a93cf" text-anchor="start" textLength="114.0" lengthAdjust="spacingAndGlyphs">IMMER ANSPRUCHS-</text>
<text x="480.6" y="2351.0" font-size="12" fill="#1a93cf" text-anchor="start" textLength="126.9" lengthAdjust="spacingAndGlyphs">VOLLEREN VORGABEN.</text>
<rect x="72.8" y="2577" width="55.60000000000001" height="101.5" fill="#d6ebf8"/>
<rect x="72.8" y="2631.7" width="55.60000000000001" height="46.80000000000018" fill="#5db8e4"/>
<rect x="135.1" y="2577" width="55.599999999999994" height="101.5" fill="#dcdee0"/>
<rect x="135.1" y="2657.5" width="55.599999999999994" height="21.0" fill="#7e8083"/>
<text x="77.5" y="2623.0" font-size="21" fill="#1591ca" text-anchor="start" textLength="46.8" lengthAdjust="spacingAndGlyphs">46%</text>
<text x="139.5" y="2647.8" font-size="21" fill="#808285" text-anchor="start" textLength="45.4" lengthAdjust="spacingAndGlyphs">22%</text>
<path d="M61,2685 L61,2680 L202.4,2680 L202.4,2685" fill="none" stroke="#cfe8f6" stroke-width="1.3"/>
<text x="73.7" y="2702.0" font-size="13.5" fill="#fff" text-anchor="start" textLength="52.6" lengthAdjust="spacingAndGlyphs" stroke="#fff" stroke-width="0.3">Stimmen</text>
<text x="92.7" y="2716.6" font-size="13.5" fill="#fff" text-anchor="start" textLength="14.6" lengthAdjust="spacingAndGlyphs" stroke="#fff" stroke-width="0.3">zu</text>
<text x="136.6" y="2702.0" font-size="13.5" fill="#fff" text-anchor="start" textLength="51.2" lengthAdjust="spacingAndGlyphs" stroke="#fff" stroke-width="0.3">Stimmen</text>
<text x="141.0" y="2716.6" font-size="13.5" fill="#fff" text-anchor="start" textLength="44.0" lengthAdjust="spacingAndGlyphs" stroke="#fff" stroke-width="0.3">nicht zu</text>
<rect x="277.8" y="2551.6" width="55.599999999999966" height="101.59999999999991" fill="#d6ebf8"/>
<rect x="277.8" y="2605.8" width="55.599999999999966" height="47.399999999999636" fill="#5db8e4"/>
<rect x="340.7" y="2551.6" width="55.60000000000002" height="101.59999999999991" fill="#dcdee0"/>
<rect x="340.7" y="2628.3" width="55.60000000000002" height="24.899999999999636" fill="#7e8083"/>
<text x="282.0" y="2596.0" font-size="21" fill="#1591ca" text-anchor="start" textLength="45.6" lengthAdjust="spacingAndGlyphs">47%</text>
<text x="346.6" y="2619.5" font-size="21" fill="#808285" text-anchor="start" textLength="43.9" lengthAdjust="spacingAndGlyphs">25%</text>
<path d="M266,2659.6 L266,2654.6 L408,2654.6 L408,2659.6" fill="none" stroke="#cfe8f6" stroke-width="1.3"/>
<text x="279.3" y="2676.6" font-size="13.5" fill="#fff" text-anchor="start" textLength="52.1" lengthAdjust="spacingAndGlyphs" stroke="#fff" stroke-width="0.3">Stimmen</text>
<text x="298.0" y="2691.2" font-size="13.5" fill="#fff" text-anchor="start" textLength="15.0" lengthAdjust="spacingAndGlyphs" stroke="#fff" stroke-width="0.3">zu</text>
<text x="343.7" y="2676.6" font-size="13.5" fill="#fff" text-anchor="start" textLength="51.8" lengthAdjust="spacingAndGlyphs" stroke="#fff" stroke-width="0.3">Stimmen</text>
<text x="346.6" y="2691.2" font-size="13.5" fill="#fff" text-anchor="start" textLength="45.4" lengthAdjust="spacingAndGlyphs" stroke="#fff" stroke-width="0.3">nicht zu</text>
<rect x="483.1" y="2529.8" width="55.299999999999955" height="100.59999999999991" fill="#d6ebf8"/>
<rect x="483.1" y="2581.2" width="55.299999999999955" height="49.20000000000027" fill="#5db8e4"/>
<rect x="547.8" y="2529.8" width="55.30000000000007" height="100.59999999999991" fill="#dcdee0"/>
<rect x="547.8" y="2602.7" width="55.30000000000007" height="27.700000000000273" fill="#7e8083"/>
<text x="488.7" y="2572.9" font-size="21" fill="#1591ca" text-anchor="start" textLength="45.3" lengthAdjust="spacingAndGlyphs">49%</text>
<text x="551.7" y="2593.3" font-size="21" fill="#808285" text-anchor="start" textLength="45.9" lengthAdjust="spacingAndGlyphs">29%</text>
<path d="M473.2,2637 L473.2,2632 L614.2,2632 L614.2,2637" fill="none" stroke="#cfe8f6" stroke-width="1.3"/>
<text x="486.0" y="2652.5" font-size="13.5" fill="#fff" text-anchor="start" textLength="50.8" lengthAdjust="spacingAndGlyphs" stroke="#fff" stroke-width="0.3">Stimmen</text>
<text x="504.0" y="2667.0" font-size="13.5" fill="#fff" text-anchor="start" textLength="15.0" lengthAdjust="spacingAndGlyphs" stroke="#fff" stroke-width="0.3">zu</text>
<text x="549.5" y="2652.5" font-size="13.5" fill="#fff" text-anchor="start" textLength="50.8" lengthAdjust="spacingAndGlyphs" stroke="#fff" stroke-width="0.3">Stimmen</text>
<text x="553.0" y="2667.0" font-size="13.5" fill="#fff" text-anchor="start" textLength="45.0" lengthAdjust="spacingAndGlyphs" stroke="#fff" stroke-width="0.3">nicht zu</text>
<text x="49.5" y="2771.5" font-size="10.5" fill="#fff" text-anchor="start" textLength="211.0" lengthAdjust="spacingAndGlyphs" stroke="#fff" stroke-width="0.25">ALLE UNTERNEHMEN (BASIS: 200 BEFRAGTE)</text>
<path d="M675,2695.6 C600,2706 480,2716 430,2736 Q416,2744 428,2758 C450,2790 480,2812 500.6,2827 L675,2827 Z" fill="#fff"/>
<text x="511" y="2769.5" font-size="30" font-weight="bold" font-style="italic" fill="#38393b" stroke="#38393b" stroke-width="0.8" textLength="110" lengthAdjust="spacingAndGlyphs">Hermes</text>
<g fill="#009bd5"><path d="M474,2748 L512,2748 L510,2752 L478,2752 Z"/><path d="M480,2754 L510,2754 L508,2758 L484,2758 Z"/><path d="M486,2760 L508,2760 L506,2764 L490,2764 Z"/><path d="M492,2766 L506,2766 L504,2770 L496,2770 Z"/></g>
<g>
<path d="M127.8,2556 L130,2505 Q132,2495 146,2492 L162,2492 Q176,2495 178,2505 L183.4,2556 Z" fill="#fff"/>
<path d="M136,2556 L138,2502 Q140,2496 146,2494 L153,2500 L160,2494 Q168,2496 170,2502 L174,2556 Z" fill="#c9cbce"/>
<path d="M146,2492 L153,2500 L160,2492 L160,2486 L146,2486 Z" fill="#f6d6b8"/>
<ellipse cx="152.7" cy="2458" rx="19" ry="16.5" fill="#b77b45"/>
<ellipse cx="136.5" cy="2476" rx="3" ry="4.5" fill="#f6d6b8"/><ellipse cx="169" cy="2476" rx="3" ry="4.5" fill="#f6d6b8"/>
<ellipse cx="152.7" cy="2476" rx="16" ry="17.5" fill="#f6d6b8"/>
<path d="M135.5,2470 Q133,2447 152,2445 Q171,2446 170.5,2468 Q167,2459 160,2457.5 Q150,2463 141,2461 Q137,2464 135.5,2470 Z" fill="#b77b45"/>
<ellipse cx="146.5" cy="2472" rx="2.2" ry="1.4" fill="#1c7fb5"/><ellipse cx="159" cy="2472" rx="2.2" ry="1.4" fill="#1c7fb5"/>
<path d="M146,2483 Q153,2489 160,2483 Z" fill="#fff"/>
<ellipse cx="179" cy="2557" rx="4.5" ry="4.5" fill="#f6d6b8"/>
</g>
<g>
<rect x="73.7" y="2512.5" width="65.8" height="44.8" rx="1.5" fill="#d0d2d4"/>
<rect x="76.5" y="2515.5" width="60" height="34.5" fill="#c6c8ca"/>
<path d="M105,2550 L133,2515.5 L136.5,2515.5 L136.5,2550 Z" fill="#dcdddf"/>
<rect x="73.7" y="2550" width="65.8" height="7.3" fill="#bcbec1"/>
<path d="M100,2557.3 L114,2557.3 L117.6,2566 L97,2566 Z" fill="#c5c7c9"/>
</g>
<g font-size="9" fill="#ffffff" opacity="0.75"><path id="bin1" d="M63.4,2527 Q108,2521 153.2,2525" fill="none"/><path id="bin2" d="M50.7,2544 Q105,2537 159,2540" fill="none"/><text><textPath href="#bin1" textLength="89" lengthAdjust="spacingAndGlyphs">01010101010101010</textPath></text><text><textPath href="#bin2" textLength="108" lengthAdjust="spacingAndGlyphs">01010101010101010101</textPath></text></g>
<g transform="rotate(-5 337 2488)">
<rect x="273" y="2448" width="128" height="82" fill="#fff"/>
<rect x="283" y="2457" width="44" height="63" fill="#c4dff0"/>
<path d="M286,2522 L287,2510 Q291,2504 299,2503 L311,2503 Q319,2504 323,2510 L324,2522 Z" fill="#a9cbe2"/>
<ellipse cx="305" cy="2471" rx="15.5" ry="11" fill="#b77b45"/>
<ellipse cx="305" cy="2485" rx="14" ry="16" fill="#f6d6b8"/>
<path d="M290.5,2482 Q289,2463 305,2461.5 Q321,2463 320,2481 Q317,2472 311,2471 Q302,2476 294,2474 Z" fill="#b77b45"/>
<ellipse cx="299" cy="2483" rx="2" ry="1.2" fill="#1c7fb5"/><ellipse cx="311" cy="2483" rx="2" ry="1.2" fill="#1c7fb5"/>
<path d="M299,2492 Q305,2497 311,2492 Z" fill="#fff"/>
<path d="M299,2503 L305,2509 L311,2503 Z" fill="#fff"/>
<text x="331" y="2474" font-size="12.5" fill="#1a93cf" textLength="55" lengthAdjust="spacingAndGlyphs">EXPERTE</text>
<rect x="333" y="2484" width="41" height="6" fill="#d9dadc"/>
<rect x="333" y="2495" width="58" height="5" fill="#d9dadc"/>
<rect x="333" y="2504" width="58" height="5" fill="#d9dadc"/>
<rect x="333" y="2513" width="58" height="5" fill="#d9dadc"/>
</g>
<rect x="326" y="2429" width="17.7" height="22" rx="6" fill="#c9cbcd"/>
<g>
<path d="M518,2404.3 L596,2404.3 L600,2411 L600,2461.5 L526,2461.5 L518,2455 Z" fill="#f4f5f6"/>
<rect x="526" y="2411" width="74" height="50.5" fill="#d9dadc"/>
<rect x="560" y="2404.3" width="6" height="18" fill="#fff"/>
<path d="M502.5,2461.5 L580,2461.5 L584.5,2467 L584.5,2513.6 L510,2513.6 L502.5,2507 Z" fill="#f4f5f6"/>
<rect x="510" y="2467" width="74.5" height="46.6" fill="#d9dadc"/>
<rect x="510" y="2461.5" width="74.5" height="5" fill="#bfc1c3"/>
<rect x="541" y="2463" width="6" height="15" fill="#fff"/>
</g>
<circle cx="509.5" cy="2455" r="23" fill="#cfe6f5"/><circle cx="509.5" cy="2455" r="19.5" fill="#fff"/><circle cx="509.5" cy="2455" r="17" fill="none" stroke="#9fcde9" stroke-width="2.5"/><rect x="497.3" y="2453.5" width="24.7" height="4" rx="2" fill="#9fcde9"/>
</svg>
</body></html>
